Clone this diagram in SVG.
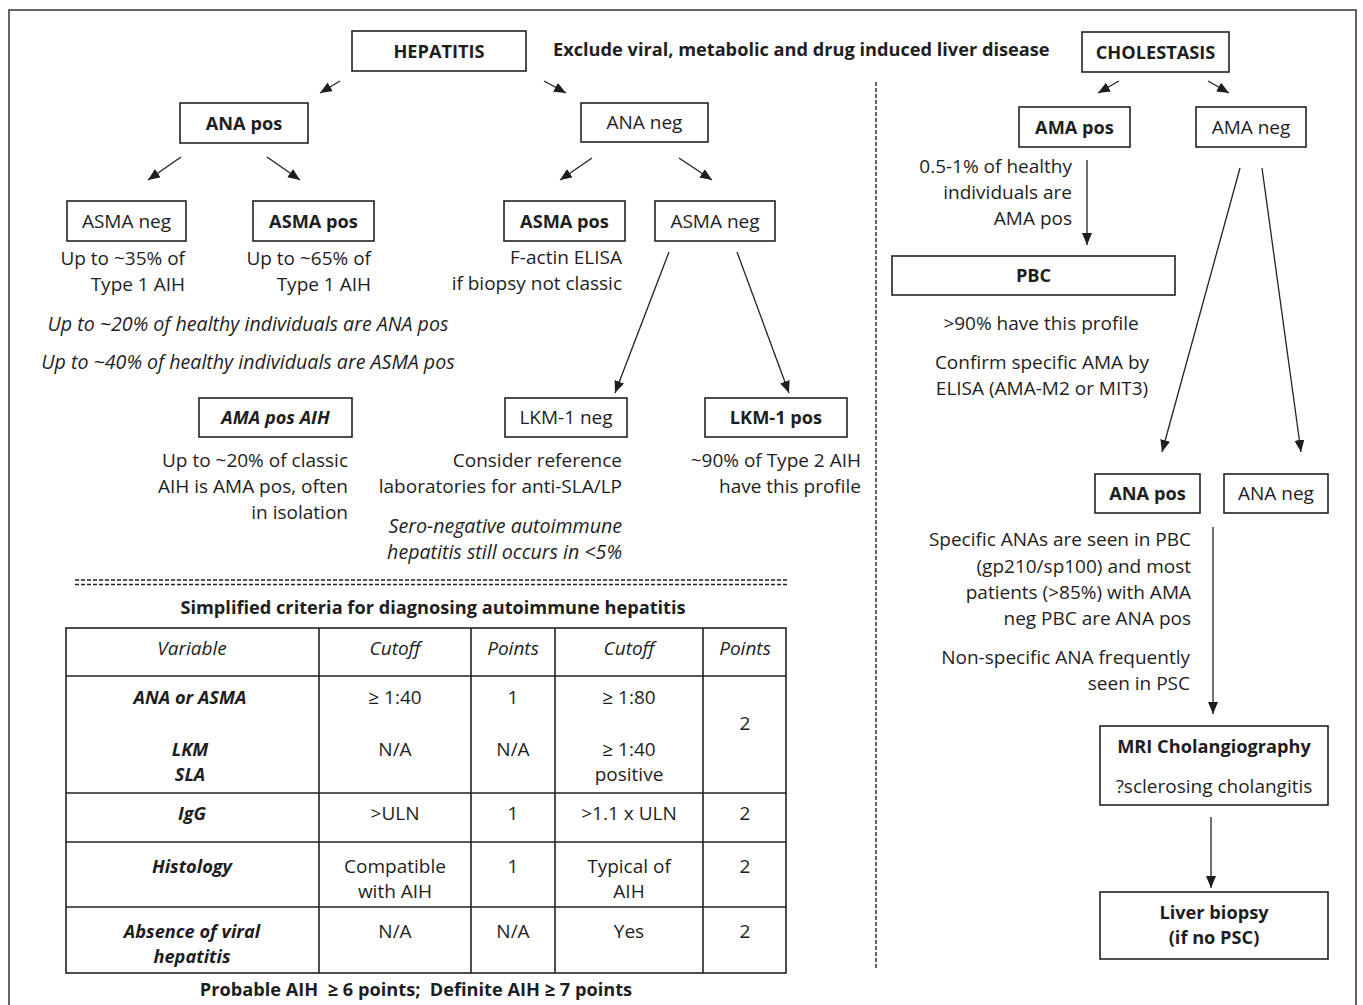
<svg xmlns="http://www.w3.org/2000/svg" width="1363" height="1005" viewBox="0 0 1363 1005">
<style>
text{font-family:"Open Sans","Liberation Sans",sans-serif;fill:#1e1e1e;font-size:19px}
.b{font-weight:700;font-size:18.2px}
.i{font-style:italic}
.in{font-size:19.6px}
.c{text-anchor:middle}
.e{text-anchor:end}
.box{fill:#fff;stroke:#222;stroke-width:1.6}
.ln{stroke:#222;stroke-width:1.3;fill:none}
.tl{stroke:#222;stroke-width:1.6;fill:none}
.dash{stroke:#222;stroke-width:1.4;stroke-dasharray:4 2;fill:none}
</style>
<defs>
<marker id="ah" markerUnits="userSpaceOnUse" markerWidth="13" markerHeight="11" refX="12" refY="5" orient="auto">
<path d="M0,0 L12,5 L0,10 z" fill="#1e1e1e"/>
</marker>
</defs>
<rect width="1363" height="1005" fill="#fff"/>
<rect x="9" y="10" width="1347" height="1005" fill="none" stroke="#333" stroke-width="1.5"/>

<g id="connectors">
<line class="ln" x1="340" y1="81" x2="320" y2="93" marker-end="url(#ah)"/>
<line class="ln" x1="544" y1="81" x2="566" y2="93" marker-end="url(#ah)"/>
<line class="ln" x1="181" y1="157" x2="148" y2="180" marker-end="url(#ah)"/>
<line class="ln" x1="267" y1="157" x2="300" y2="180" marker-end="url(#ah)"/>
<line class="ln" x1="592" y1="158" x2="560" y2="180" marker-end="url(#ah)"/>
<line class="ln" x1="679" y1="158" x2="712" y2="180" marker-end="url(#ah)"/>
<line class="ln" x1="669" y1="252" x2="615" y2="393" marker-end="url(#ah)"/>
<line class="ln" x1="737" y1="252" x2="789" y2="393" marker-end="url(#ah)"/>
<line class="ln" x1="1119" y1="81" x2="1098" y2="93" marker-end="url(#ah)"/>
<line class="ln" x1="1208" y1="81" x2="1229" y2="93" marker-end="url(#ah)"/>
<line class="ln" x1="1087" y1="160" x2="1087" y2="245" marker-end="url(#ah)"/>
<line class="ln" x1="1240" y1="168" x2="1162" y2="452" marker-end="url(#ah)"/>
<line class="ln" x1="1262" y1="168" x2="1301" y2="452" marker-end="url(#ah)"/>
<line class="ln" x1="1213" y1="527" x2="1213" y2="714" marker-end="url(#ah)"/>
<line class="ln" x1="1211" y1="817" x2="1211" y2="888" marker-end="url(#ah)"/>
</g>

<g id="dividers">
<line class="dash" x1="876" y1="82" x2="876" y2="970"/>
<line class="dash" x1="75" y1="580" x2="787" y2="580"/>
<line class="dash" x1="75" y1="584.5" x2="787" y2="584.5"/>
</g>

<g id="title">
<text class="b" x="553" y="56">Exclude viral, metabolic and drug induced liver disease</text>
</g>

<g id="hepatitis">
<rect class="box" x="352" y="31" width="174" height="40"/>
<text class="b c" x="439" y="58">HEPATITIS</text>
</g>
<g id="ana-pos">
<rect class="box" x="180" y="103" width="128" height="40"/>
<text class="b c" x="244" y="130">ANA pos</text>
</g>
<g id="ana-neg">
<rect class="box" x="581" y="103" width="127" height="39"/>
<text class="c" x="644.5" y="129">ANA neg</text>
</g>
<g id="asma-neg-1">
<rect class="box" x="67" y="201" width="119" height="40"/>
<text class="c" x="126.5" y="228">ASMA neg</text>
<text class="e" x="185" y="265">Up to ~35% of</text>
<text class="e" x="185" y="291">Type 1 AIH</text>
</g>
<g id="asma-pos-1">
<rect class="box" x="253" y="201" width="121" height="40"/>
<text class="b c" x="313.5" y="228">ASMA pos</text>
<text class="e" x="371" y="265">Up to ~65% of</text>
<text class="e" x="371" y="291">Type 1 AIH</text>
</g>
<g id="asma-pos-2">
<rect class="box" x="504" y="201" width="121" height="40"/>
<text class="b c" x="564.5" y="228">ASMA pos</text>
<text class="e" x="622" y="264">F-actin ELISA</text>
<text class="e" x="622" y="290">if biopsy not classic</text>
</g>
<g id="asma-neg-2">
<rect class="box" x="655" y="201" width="120" height="40"/>
<text class="c" x="715" y="228">ASMA neg</text>
</g>
<g id="healthy-notes">
<text class="i in c" x="248" y="331">Up to ~20% of healthy individuals are ANA pos</text>
<text class="i in c" x="248" y="369">Up to ~40% of healthy individuals are ASMA pos</text>
</g>
<g id="ama-pos-aih">
<rect class="box" x="199" y="398" width="153" height="39"/>
<text class="b i c" x="275.5" y="424">AMA pos AIH</text>
<text class="e" x="348" y="467">Up to ~20% of classic</text>
<text class="e" x="348" y="493">AIH is AMA pos, often</text>
<text class="e" x="348" y="519">in isolation</text>
</g>
<g id="lkm-neg">
<rect class="box" x="505" y="398" width="122" height="39"/>
<text class="c" x="566" y="424">LKM-1 neg</text>
<text class="e" x="622" y="467">Consider reference</text>
<text class="e" x="622" y="493">laboratories for anti-SLA/LP</text>
<text class="i in e" x="622" y="533">Sero-negative autoimmune</text>
<text class="i in e" x="622" y="559">hepatitis still occurs in &lt;5%</text>
</g>
<g id="lkm-pos">
<rect class="box" x="705" y="398" width="142" height="39"/>
<text class="b c" x="776" y="424">LKM-1 pos</text>
<text class="e" x="861" y="467">~90% of Type 2 AIH</text>
<text class="e" x="861" y="493">have this profile</text>
</g>

<g id="criteria-table">
<text class="b c" x="433" y="614">Simplified criteria for diagnosing autoimmune hepatitis</text>
<rect class="tl" x="66" y="628" width="720" height="345"/>
<line class="tl" x1="66" y1="676" x2="786" y2="676"/>
<line class="tl" x1="66" y1="793" x2="786" y2="793"/>
<line class="tl" x1="66" y1="842" x2="786" y2="842"/>
<line class="tl" x1="66" y1="907" x2="786" y2="907"/>
<line class="tl" x1="319" y1="628" x2="319" y2="973"/>
<line class="tl" x1="471" y1="628" x2="471" y2="973"/>
<line class="tl" x1="555" y1="628" x2="555" y2="973"/>
<line class="tl" x1="703" y1="628" x2="703" y2="973"/>
<text class="i c" x="192" y="655">Variable</text>
<text class="i c" x="395" y="655">Cutoff</text>
<text class="i c" x="513" y="655">Points</text>
<text class="i c" x="629" y="655">Cutoff</text>
<text class="i c" x="745" y="655">Points</text>
<text class="b i c" x="190" y="704">ANA or ASMA</text>
<text class="b i c" x="190" y="756">LKM</text>
<text class="b i c" x="190" y="781">SLA</text>
<text class="c" x="395" y="704">≥ 1:40</text>
<text class="c" x="513" y="704">1</text>
<text class="c" x="629" y="704">≥ 1:80</text>
<text class="c" x="395" y="756">N/A</text>
<text class="c" x="513" y="756">N/A</text>
<text class="c" x="629" y="756">≥ 1:40</text>
<text class="c" x="629" y="781">positive</text>
<text class="c" x="745" y="730">2</text>
<text class="b i c" x="192" y="820">IgG</text>
<text class="c" x="395" y="820">&gt;ULN</text>
<text class="c" x="513" y="820">1</text>
<text class="c" x="629" y="820">&gt;1.1 x ULN</text>
<text class="c" x="745" y="820">2</text>
<text class="b i c" x="192" y="873">Histology</text>
<text class="c" x="395" y="873">Compatible</text>
<text class="c" x="395" y="898">with AIH</text>
<text class="c" x="513" y="873">1</text>
<text class="c" x="629" y="873">Typical of</text>
<text class="c" x="629" y="898">AIH</text>
<text class="c" x="745" y="873">2</text>
<text class="b i c" x="192" y="938">Absence of viral</text>
<text class="b i c" x="192" y="963">hepatitis</text>
<text class="c" x="395" y="938">N/A</text>
<text class="c" x="513" y="938">N/A</text>
<text class="c" x="629" y="938">Yes</text>
<text class="c" x="745" y="938">2</text>
<text class="b c" x="416" y="996">Probable AIH &#160;≥ 6 points; &#160;Definite AIH ≥ 7 points</text>
</g>

<g id="cholestasis">
<rect class="box" x="1082" y="32" width="147" height="40"/>
<text class="b c" x="1155.5" y="59">CHOLESTASIS</text>
</g>
<g id="ama-pos">
<rect class="box" x="1019" y="107" width="111" height="40"/>
<text class="b c" x="1074.5" y="134">AMA pos</text>
<text class="e" x="1072" y="173">0.5-1% of healthy</text>
<text class="e" x="1072" y="199">individuals are</text>
<text class="e" x="1072" y="225">AMA pos</text>
</g>
<g id="ama-neg">
<rect class="box" x="1196" y="107" width="110" height="40"/>
<text class="c" x="1251" y="134">AMA neg</text>
</g>
<g id="pbc">
<rect class="box" x="892" y="256" width="283" height="39"/>
<text class="b c" x="1033.5" y="282">PBC</text>
<text class="c" x="1041" y="330">&gt;90% have this profile</text>
<text class="c" x="1042" y="369">Confirm specific AMA by</text>
<text class="c" x="1042" y="395">ELISA (AMA-M2 or MIT3)</text>
</g>
<g id="ana-pos-r">
<rect class="box" x="1095" y="474" width="105" height="39"/>
<text class="b c" x="1147.5" y="500">ANA pos</text>
<text class="e" x="1191" y="546">Specific ANAs are seen in PBC</text>
<text class="e" x="1191" y="573">(gp210/sp100) and most</text>
<text class="e" x="1191" y="599">patients (&gt;85%) with AMA</text>
<text class="e" x="1191" y="625">neg PBC are ANA pos</text>
<text class="e" x="1190" y="664">Non-specific ANA frequently</text>
<text class="e" x="1190" y="690">seen in PSC</text>
</g>
<g id="ana-neg-r">
<rect class="box" x="1224" y="474" width="104" height="39"/>
<text class="c" x="1276" y="500">ANA neg</text>
</g>
<g id="mri">
<rect class="box" x="1100" y="726" width="228" height="79"/>
<text class="b c" x="1214" y="753">MRI Cholangiography</text>
<text class="c" x="1214" y="793">?sclerosing cholangitis</text>
</g>
<g id="liver-biopsy">
<rect class="box" x="1100" y="892" width="228" height="67"/>
<text class="b c" x="1214" y="919">Liver biopsy</text>
<text class="b c" x="1214" y="944">(if no PSC)</text>
</g>
</svg>
